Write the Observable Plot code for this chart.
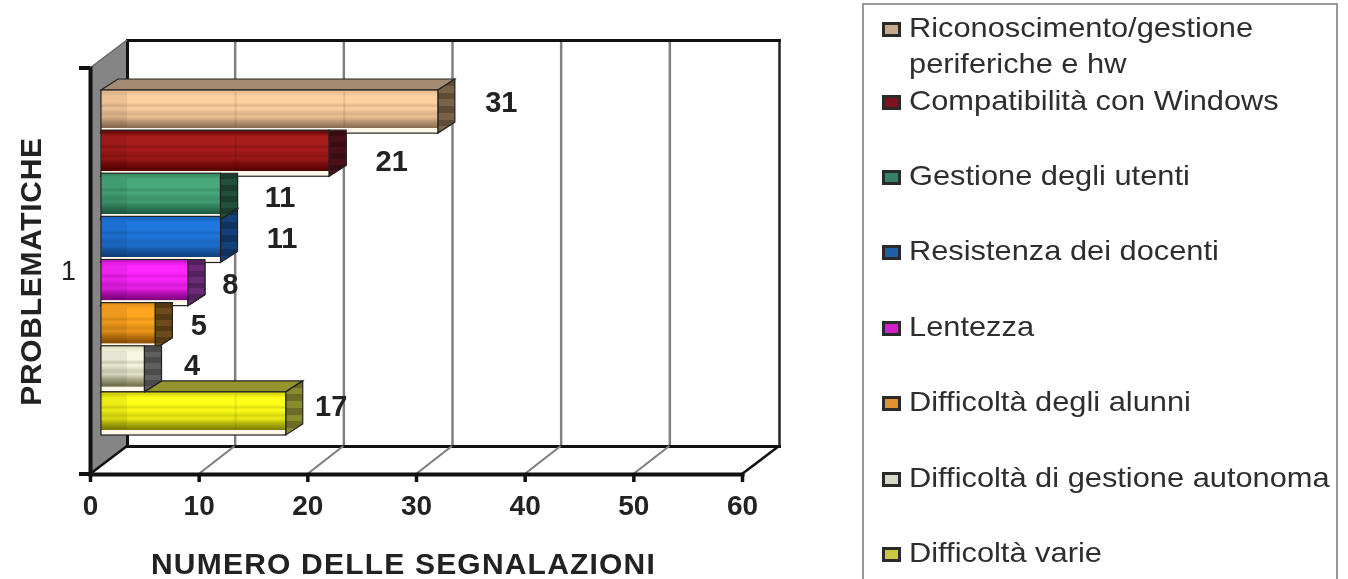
<!DOCTYPE html>
<html><head><meta charset="utf-8">
<script src="https://cdn.jsdelivr.net/npm/d3@7"></script>
<script src="https://cdn.jsdelivr.net/npm/@observablehq/plot@0.6"></script>
<style>
html,body{margin:0;padding:0;background:#fff;overflow:hidden}
#wrap{position:relative;width:1348px;height:579px;overflow:hidden;filter:blur(0.5px)}
#legend{position:absolute;left:862px;top:3px;width:476px;height:600px;border:2px solid #999;box-sizing:border-box;background:#fff;font-family:"Liberation Sans",Arial,sans-serif;font-size:28px;color:#2e2e2e;line-height:36px}
.item{position:absolute;left:18px;width:456px;display:flex;white-space:nowrap}
.sw{flex:none;width:13px;height:9px;border:3px solid #2a2a2a;margin:12px 8px 0 0}
.tx{display:inline-block;transform:scaleX(1.1);transform-origin:left center}
.wideX{letter-spacing:1.2px}
.wideY{letter-spacing:.7px}
</style></head><body><div id="wrap"></div>
<script>
const categories = ["Riconoscimento/gestione periferiche e hw","Compatibilità con Windows","Gestione degli utenti","Resistenza dei docenti","Lentezza","Difficoltà degli alunni","Difficoltà di gestione autonoma","Difficoltà varie"];
const values = [31,21,11,11,8,5,4,17];
const edgeColors = ["#d9b48e","#550000","#37855f","#1560b8","#c010c0","#d98a18","#d8d8b8","#c8c800"];
const lightColors = ["#ffd0a0","#a81c1c","#48a87a","#1f78e0","#ff25ff","#ffa520","#f8f8e2","#ffff18"];
const darkColors = ["#866a50","#550000","#1c5a40","#103f78","#7c007c","#8a4c00","#6e6e48","#7c7c00"];
const sideColors = ["#7a6248","#4a1018","#20503c","#14407a","#6a2a78","#6e4a1c","#606060","#8a8a30"];
const topColors = ["#a58a72","#5a0808","#2a6a4c","#123f78","#8a108a","#a06010","#8a8a60","#94942c"];
const swatchColors = ["#c8aa90","#801020","#388068","#2060a8","#d020c8","#e09030","#d8d8c8","#c8c840"];
const xTicks = [0,10,20,30,40,50,60];
const xTitle = "NUMERO DELLE SEGNALAZIONI";
const yTitle = "PROBLEMATICHE";
const groupLabel = "1";

const rows = categories.map((name,i)=>({name,value:values[i],i}));
const depth = {dx:37,dy:-28}, inset = {dx:11}, barDepth = {dx:17,dy:-11};
const font = '"Liberation Sans",Arial,sans-serif';

function defs(){
  const svg = d3.create("svg:defs");
  rows.forEach(r=>{
    const g = svg.append("linearGradient").attr("id","f"+r.i).attr("x1",0).attr("x2",0).attr("y1",0).attr("y2",1);
    const a=lightColors[r.i], b=darkColors[r.i];
    const mix=d3.interpolateRgb(a,b);
    const stops=[[0,edgeColors[r.i]],[.14,a],[.3,a],[.36,mix(.25)],[.42,a],[.55,mix(.3)],[.62,mix(.15)],[.72,mix(.55)],[.88,b]];
    stops.forEach(([o,c])=>g.append("stop").attr("offset",o).attr("stop-color",c));
    g.append("stop").attr("offset",.89).attr("stop-color","#fff8ea");
    g.append("stop").attr("offset",1).attr("stop-color","#fff8ea");
    const s = svg.append("linearGradient").attr("id","s"+r.i).attr("x1",0).attr("x2",0).attr("y1",0).attr("y2",1);
    for(let k=0;k<=8;k++){
      const c=k%2?sideColors[r.i]:d3.color(sideColors[r.i]).darker(.7).formatHex();
      s.append("stop").attr("offset",k/8).attr("stop-color",c);
      s.append("stop").attr("offset",(k+1)/8).attr("stop-color",c);
    }
  });
  return svg.node();
}
function poly(pts,fill,stroke,sw,op){
  const p=document.createElementNS("http://www.w3.org/2000/svg","polygon");
  p.setAttribute("points",pts.map(d=>d.join(",")).join(" "));
  p.setAttribute("fill",fill); p.setAttribute("stroke",stroke||"none"); p.setAttribute("stroke-width",sw||0);
  if(op!=null) p.setAttribute("opacity",op);
  return p;
}
function wall(index,scales,values,dim){
  const x0=scales.x(0),t=dim.marginTop,b=dim.height-dim.marginBottom;
  const g=d3.create("svg:g").node();
  g.append(poly([[x0,b],[x0+depth.dx,b+depth.dy],[x0+depth.dx,t+depth.dy],[x0,t]],"#858585"));
  return g;
}
const bandStep = s => s.y(categories[1])-s.y(categories[0]);
function faces(index,scales){
  const g=d3.create("svg:g").node(), bh=bandStep(scales);
  [...rows].reverse().forEach(r=>{
    const xa=scales.x(0)+inset.dx, xb=scales.x(r.value)+inset.dx;
    const y0=scales.y(r.name), y1=y0+bh, {dx,dy}=barDepth;
    g.append(poly([[xa,y0],[xa+dx,y0+dy],[xb+dx,y0+dy],[xb,y0]],topColors[r.i],"#222",1.2));
    g.append(poly([[xb,y0],[xb+dx,y0+dy],[xb+dx,y1+dy],[xb,y1]],`url(#s${r.i})`,"#222",1.2));
  });
  return g;
}
// Side of a shorter bar shows in front of the pale lower strip of the longer bar above it.
function sidePatches(index,scales){
  const g=d3.create("svg:g").node(), bh=bandStep(scales);
  rows.forEach((r,k)=>{
    if(k===0||rows[k-1].value<=r.value) return;
    const xb=scales.x(r.value)+inset.dx, y0=scales.y(r.name), y1=y0+bh, {dx,dy}=barDepth;
    g.append(poly([[xb,y0-3],[xb+dx,y0-3],[xb+dx,y1+dy],[xb,y1]],`url(#s${r.i})`,"#222",1.2));
  });
  return g;
}
// Back wall seen faintly through the bar fronts.
function ghost(index,scales){
  const g=d3.create("svg:g").node(), bh=bandStep(scales);
  rows.forEach(r=>{
    const xa=scales.x(0)+inset.dx, xb=scales.x(r.value)+inset.dx, y0=scales.y(r.name)+2, y1=y0+bh-8;
    const w=scales.x(0)+depth.dx;
    g.append(poly([[xa+1,y0],[w,y0],[w,y1],[xa+1,y1]],"#000","none",0,.07));
    xTicks.slice(1).forEach(t=>{
      const x=scales.x(t)+depth.dx;
      if(x<xb-2) g.append(poly([[x-1,y0],[x+1,y0],[x+1,y1],[x-1,y1]],"#000","none",0,.09));
    });
  });
  return g;
}
const labelOffsets = [[63,-9],[62,7],[59,-1],[61,-3],[42,0],[43,-2],[47,-5],[45,-7]];
const overlap = r => (r.i===0||r.i===categories.length-1) ? 0 : -3;

const chart = Plot.plot({
  width:1348,height:579,marginLeft:90,marginRight:606,marginTop:68,marginBottom:105,
  style:{fontFamily:font,background:"#fff",overflow:"visible"},
  x:{domain:[0,60],axis:null},
  y:{domain:categories,range:[90,435],padding:0,round:false,axis:null},
  marks:[
    ()=>defs(),
    wall,
    Plot.ruleX(xTicks.slice(1,-1),{stroke:"#808080",strokeWidth:2.5,dx:depth.dx-1,dy:depth.dy}),
    Plot.ruleX([60],{stroke:"#222",strokeWidth:2.5,dx:depth.dx,dy:depth.dy}),
    Plot.frame({anchor:"top",stroke:"#111",strokeWidth:3,dx:depth.dx,dy:depth.dy}),
    Plot.frame({anchor:"bottom",stroke:"#111",strokeWidth:3,dx:depth.dx,dy:depth.dy}),
    Plot.frame({anchor:"left",stroke:"#111",strokeWidth:3,dx:depth.dx,dy:depth.dy}),
    (i,s,v,dim)=>{
      const g=d3.create("svg:g").node(), b=dim.height-dim.marginBottom, t=dim.marginTop;
      xTicks.forEach(k=>{
        const x=s.x(k), black=k===60||k===0;
        g.append(poly([[x,b],[x+depth.dx-(black?0:1),b+depth.dy]],"none",black?"#111":"#808080",black?2.5:2.2));
      });
      g.append(poly([[s.x(0),t],[s.x(0)+depth.dx,t+depth.dy]],"none","#666",1.5));
      return g;
    },
    faces,
    ...rows.map(r=>Plot.barX([r],{x1:0,x2:"value",y:"name",dx:inset.dx,fill:d=>`url(#f${d.i})`,stroke:"#222",strokeWidth:1.2,insetTop:overlap(r)})),
    sidePatches,
    ghost,
    Plot.frame({anchor:"bottom",stroke:"#111",strokeWidth:4}),
    Plot.frame({anchor:"left",stroke:"#111",strokeWidth:4}),
    Plot.axisX(xTicks,{anchor:"bottom",tickSize:8,tickPadding:13,fontSize:28,fontWeight:"bold",stroke:"#111",strokeWidth:3.5,fill:"#222",label:null,tickFormat:d=>d}),
    (i,s,v,dim)=>{
      const g=d3.create("svg:g").node(), x=s.x(0), t=dim.marginTop, b=dim.height-dim.marginBottom;
      g.append(poly([[x-11,t],[x,t]],"none","#111",4));
      g.append(poly([[x-11,b],[x,b]],"none","#111",4));
      return g;
    },
    ...rows.map((r,k)=>Plot.text([r],{x:"value",y:"name",text:d=>d.value,dx:inset.dx+labelOffsets[k][0],dy:labelOffsets[k][1],fontSize:29,fontWeight:"bold",fill:"#222"})),
    Plot.text([groupLabel],{frameAnchor:"left",dx:-22,fontSize:27,fill:"#222",textAnchor:"middle"}),
    Plot.text([yTitle],{frameAnchor:"left",dx:-59,rotate:-90,fontSize:30,fontWeight:"bold",fill:"#222",textAnchor:"middle",className:"wideY"}),
    Plot.text([xTitle],{frameAnchor:"bottom",dx:-13,dy:99,fontSize:30,fontWeight:"bold",fill:"#222",textAnchor:"middle",className:"wideX"})
  ]
});
const wrap=document.getElementById("wrap");
wrap.append(chart);
const legend=document.createElement("div");legend.id="legend";
const tops=[5,78,153,228,304,379,455,530];
rows.forEach(r=>{
  const it=document.createElement("div");it.className="item";it.style.top=tops[r.i]+"px";
  const sw=document.createElement("span");sw.className="sw";sw.style.background=swatchColors[r.i];
  const tx=document.createElement("span");tx.className="tx";
  tx.innerHTML=r.i===0?"Riconoscimento/gestione<br>periferiche e hw":r.name;
  it.append(sw,tx);legend.append(it);
});
wrap.append(legend);
</script></body></html>
